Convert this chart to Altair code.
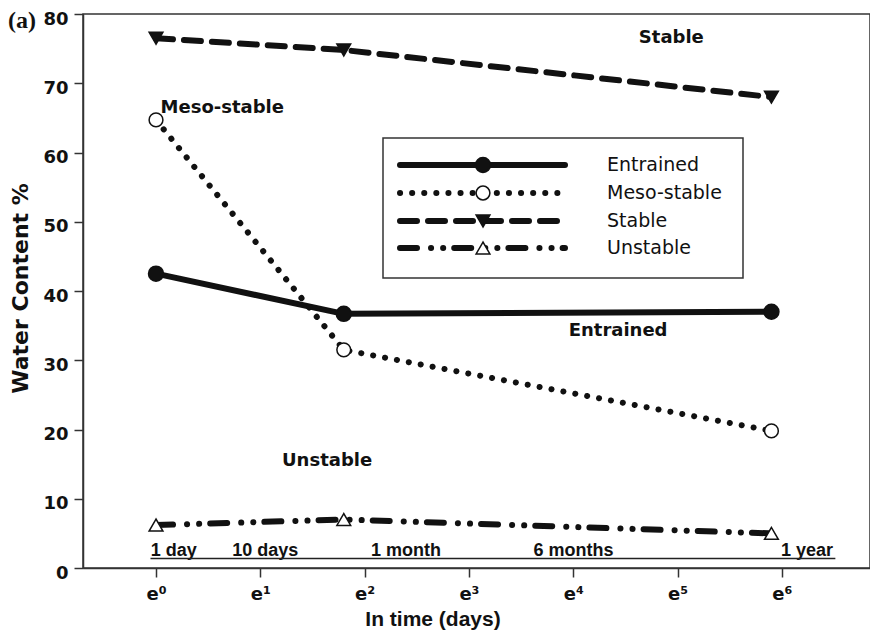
import json
import altair as alt
import pandas as pd

# ---------------- data ----------------
series = ["Entrained", "Meso-stable", "Stable", "Unstable"]
ln_time = [0.0, 1.8, 5.9]                 # ln(days)
entrained = [42.5, 36.7, 37.0]
meso_stable = [64.7, 31.5, 19.8]
stable = [76.5, 74.8, 68.0]
unstable = [6.2, 7.0, 5.0]
values = {"Entrained": entrained, "Meso-stable": meso_stable,
          "Stable": stable, "Unstable": unstable}

x_ticks = [0, 1, 2, 3, 4, 5, 6]
x_tick_labels = ["e⁰", "e¹", "e²", "e³", "e⁴", "e⁵", "e⁶"]
y_ticks = [0, 10, 20, 30, 40, 50, 60, 70, 80]

# curve annotations
curve_labels = ["Stable", "Meso-stable", "Entrained", "Unstable"]
curve_label_t = [4.94, 0.635, 4.43, 1.64]
curve_label_v = [76.6, 66.4, 34.2, 15.5]

# time annotations above x axis
time_labels = ["1 day", "10 days", "1 month", "6 months", "1 year"]
time_label_t = [-0.05, 0.73, 2.06, 3.62, 6.49]
time_label_align = ["left", "left", "left", "left", "right"]
time_label_v = 1.75
underline_t = [-0.053, 6.513]
underline_v = 1.37

# ---------------- styles ----------------
INK = "#111111"
FRAME = "#333333"
styles = {
    "Entrained": dict(dash=None, shape="circle", fill=INK, size=225),
    "Meso-stable": dict(dash=[0.1, 12], shape="circle", fill="white", size=190),
    "Stable": dict(dash=[17, 11], shape="triangle-down", fill=INK, size=190),
    "Unstable": dict(dash=[17, 14, 0.1, 12, 0.1, 11], shape="triangle-up", fill="white", size=190),
}

W, H = 787, 554
X = alt.X("t:Q",
          scale=alt.Scale(domain=[-0.7, 6.845], nice=False, zero=False),
          axis=alt.Axis(values=x_ticks,
                        labelExpr=json.dumps(x_tick_labels, ensure_ascii=False) + "[datum.value]",
                        title="In time (days)",
                        labelFont="DejaVu Sans", labelFontWeight="bold", labelFontSize=18,
                        labelPadding=8,
                        titleFont="Liberation Sans", titleFontWeight="bold", titleFontSize=21,
                        titleBaseline="alphabetic", titleY=57, titleX=W / 2 - 44))
Y = alt.Y("v:Q",
          scale=alt.Scale(domain=[0, 80], nice=False),
          axis=alt.Axis(values=y_ticks, title="Water Content %",
                        labelFont="DejaVu Sans", labelFontWeight="bold", labelFontSize=18,
                        labelPadding=6, labelOffset=5,
                        titleFont="DejaVu Sans", titleFontWeight="bold", titleFontSize=22,
                        titleBaseline="alphabetic", titleX=-56, titleY=274, titleAlign="center"))

rows = []
for s in series:
    for t, v in zip(ln_time, values[s]):
        rows.append({"series": s, "t": t, "v": v})
df = pd.DataFrame(rows)

layers = []
# lines
for s in series:
    st = styles[s]
    kw = dict(color=INK, strokeWidth=6, strokeCap="round", strokeJoin="round")
    if st["dash"]:
        kw["strokeDash"] = st["dash"]
    layers.append(alt.Chart(df[df.series == s]).mark_line(**kw).encode(x=X, y=Y))
# markers
for s in series:
    st = styles[s]
    layers.append(alt.Chart(df[df.series == s]).mark_point(
        shape=st["shape"], filled=True, fill=st["fill"], stroke=INK, strokeWidth=1.5,
        size=st["size"], opacity=1).encode(x=X, y=Y))

# curve labels
ann = pd.DataFrame({"t": curve_label_t, "v": curve_label_v, "label": curve_labels})
layers.append(alt.Chart(ann).mark_text(
    font="DejaVu Sans", fontWeight="bold", fontSize=18, color=INK,
    align="center", baseline="middle").encode(x=X, y=Y, text="label:N"))

# time labels
tl = pd.DataFrame({"t": time_label_t, "v": [time_label_v] * len(time_labels),
                   "label": time_labels, "align": time_label_align})
for al in ["left", "right"]:
    layers.append(alt.Chart(tl[tl["align"] == al]).mark_text(
        font="Liberation Sans", fontWeight="bold", fontSize=18, color=INK,
        align=al, baseline="alphabetic").encode(x=X, y=Y, text="label:N"))
ul = pd.DataFrame({"t": [underline_t[0]], "t2": [underline_t[1]], "v": [underline_v]})
layers.append(alt.Chart(ul).mark_rule(color="#222222", strokeWidth=1.3).encode(
    x=X, x2=alt.X2("t2:Q"), y=Y))

# manual legend (pixel positions inside plot area)
legend_box = dict(x=300, x2=660, y=124, y2=264)
legend_rows_y = [151, 179, 207, 234]
legend_line_x = (317, 482)
legend_marker_x = 400
legend_text_x = 524
layers.append(alt.Chart(pd.DataFrame({"k": [0]})).mark_rect(
    fill="white", stroke=FRAME, strokeWidth=1.5).encode(
    x=alt.value(legend_box["x"]), x2=alt.value(legend_box["x2"]),
    y=alt.value(legend_box["y"]), y2=alt.value(legend_box["y2"])))
for s, ry in zip(series, legend_rows_y):
    st = styles[s]
    d = pd.DataFrame({"series": [s]})
    kw = dict(color=INK, strokeWidth=6, strokeCap="round")
    if st["dash"]:
        kw["strokeDash"] = st["dash"]
    layers.append(alt.Chart(d).mark_rule(**kw).encode(
        x=alt.value(legend_line_x[0]), x2=alt.value(legend_line_x[1]), y=alt.value(ry)))
    layers.append(alt.Chart(d).mark_point(
        shape=st["shape"], filled=True, fill=st["fill"], stroke=INK, strokeWidth=1.5,
        size=st["size"], opacity=1).encode(x=alt.value(legend_marker_x), y=alt.value(ry)))
    layers.append(alt.Chart(d).mark_text(
        font="DejaVu Sans", fontSize=19, color=INK, align="left", baseline="middle").encode(
        x=alt.value(legend_text_x), y=alt.value(ry), text="series:N"))

# panel label
layers.append(alt.Chart(pd.DataFrame({"label": ["(a)"]})).mark_text(
    font="Liberation Serif", fontWeight="bold", fontSize=24, color=INK,
    align="left", baseline="alphabetic").encode(
    x=alt.value(-75), y=alt.value(14), text="label:N"))

chart = alt.layer(*layers).properties(
    width=W, height=H,
    padding={"left": 75, "top": 6, "right": 0, "bottom": 62},
    autosize=alt.AutoSizeParams(type="none"),
    background="white",
).configure_view(stroke=FRAME, strokeWidth=1.5).configure_axis(
    grid=False, domainColor=FRAME, domainWidth=1.5, tickColor=FRAME, tickWidth=1.5,
    tickSize=9, labelColor=INK, titleColor=INK)

chart.save("out.html", embed_options={"renderer": "svg", "actions": False})
